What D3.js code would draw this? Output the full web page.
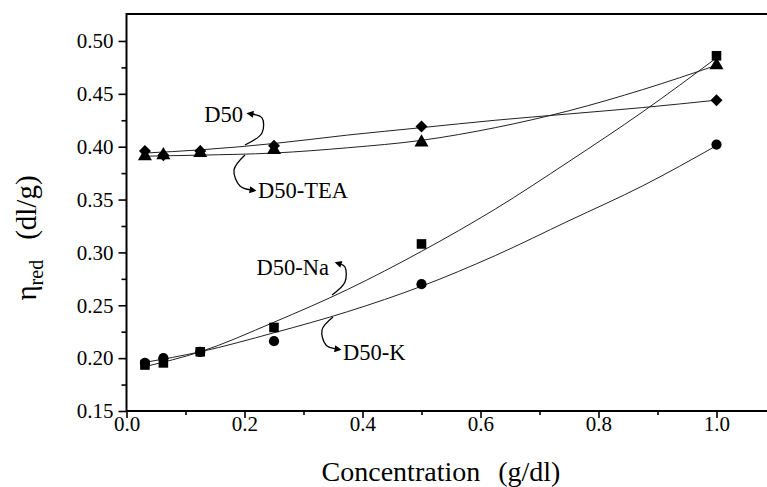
<!DOCTYPE html>
<html>
<head>
<meta charset="utf-8">
<script src="https://cdn.jsdelivr.net/npm/d3@7"></script>
<style>
body { margin: 0; background: #fff; }
svg { display: block; }
text { font-family: "Liberation Serif", "Times New Roman", serif; fill: #000; }
</style>
</head>
<body>
<svg width="767" height="487"></svg>
<script>
// concentrations of the measured solutions (g/dl)
var conc = [0.03125, 0.0625, 0.125, 0.25, 0.5, 1.0];

// reduced viscosity (dl/g)
var d50    = [0.396, 0.392, 0.396, 0.401, 0.419, 0.444];
var d50Tea = [0.391, 0.392, 0.394, 0.397, 0.404, 0.477];
var d50Na  = [0.1935, 0.1955, 0.206, 0.229, 0.308, 0.486];
var d50K   = [0.1955, 0.200, 0.206, 0.216, 0.270, 0.402];

// the fitted curves as drawn, read at these concentrations
var fitConc   = [0.03125, 0.125, 0.25, 0.375, 0.5, 0.625, 0.75, 0.875, 1.0];
var fitD50    = [0.394, 0.397, 0.403, 0.411, 0.418, 0.425, 0.431, 0.437, 0.444];
var fitD50Tea = [0.391, 0.392, 0.394, 0.399, 0.406, 0.418, 0.434, 0.454, 0.477];
var fitD50Na  = [0.192, 0.206, 0.234, 0.265, 0.301, 0.341, 0.386, 0.433, 0.484];
var fitD50K   = [0.196, 0.206, 0.224, 0.244, 0.268, 0.297, 0.330, 0.363, 0.401];

// tick labels
var yTicks = [0.15, 0.20, 0.25, 0.30, 0.35, 0.40, 0.45, 0.50];
var yMinor = [0.175, 0.225, 0.275, 0.325, 0.375, 0.425, 0.475];
var xTicks = [0.0, 0.2, 0.4, 0.6, 0.8, 1.0];
var xMinor = [0.1, 0.3, 0.5, 0.7, 0.9];

// curved arrow labels, in data units
var labelNames = ['D50', 'D50-TEA', 'D50-Na', 'D50-K'];
var labelAt = [[0.1975, 0.4234], [0.2229, 0.3515], [0.3432, 0.2787], [0.3669, 0.1983]];
var labelAnchor = ['end', 'start', 'end', 'start'];
var arrowPts = [
    [[0.2008, 0.4016], [0.2297, 0.4130], [0.2297, 0.4272], [0.2127, 0.4309]],
    [[0.2008, 0.3922], [0.1822, 0.3780], [0.1924, 0.3628], [0.2110, 0.3591]],
    [[0.3483, 0.2597], [0.3703, 0.2720], [0.3703, 0.2862], [0.3619, 0.2891]],
    [[0.3500, 0.2389], [0.3314, 0.2267], [0.3381, 0.2124], [0.3551, 0.2087]]
];

var svg = d3.select('svg');
var svgWidth = +svg.attr('width');

var plot = {l: 126.5, t: 14, b: 411};

var xScale = d3.scaleLinear().domain([0, 1.0856]).range([plot.l, svgWidth]);
var yScale = d3.scaleLinear().domain([0.15, 0.5255]).range([plot.b, plot.t]);

var series = [
    {name: 'D50',     values: d50,    fit: fitD50,    symbol: 'diamond'},
    {name: 'D50-TEA', values: d50Tea, fit: fitD50Tea, symbol: 'triangle'},
    {name: 'D50-Na',  values: d50Na,  fit: fitD50Na,  symbol: 'square'},
    {name: 'D50-K',   values: d50K,   fit: fitD50K,   symbol: 'circle'}
];

// arrowhead
svg.append('defs').append('marker')
    .attr('id', 'arrow')
    .attr('viewBox', '0 0 10 10')
    .attr('refX', 2).attr('refY', 5)
    .attr('markerUnits', 'userSpaceOnUse')
    .attr('markerWidth', 9).attr('markerHeight', 7)
    .attr('orient', 'auto')
    .append('path')
    .attr('d', 'M0,0L10,5L0,10z')
    .attr('fill', '#000');

// axes: major and minor ticks
var yAxis = d3.axisLeft(yScale).tickValues(yTicks).tickSize(8).tickPadding(5)
    .tickFormat(d3.format('.2f'));
var yAxisMinor = d3.axisLeft(yScale).tickValues(yMinor).tickSize(5).tickFormat('');
var xAxis = d3.axisBottom(xScale).tickValues(xTicks).tickSize(7).tickPadding(-2)
    .tickFormat(d3.format('.1f'));
var xAxisMinor = d3.axisBottom(xScale).tickValues(xMinor).tickSize(4).tickFormat('');

[yAxis, yAxisMinor].forEach(function(ax) {
    svg.append('g')
        .attr('class', 'axis y-axis')
        .attr('transform', 'translate(' + plot.l + ',0)')
        .call(ax);
});
[xAxis, xAxisMinor].forEach(function(ax) {
    svg.append('g')
        .attr('class', 'axis x-axis')
        .attr('transform', 'translate(0,' + plot.b + ')')
        .call(ax);
});

svg.selectAll('.axis .domain').remove();
svg.selectAll('.axis line').attr('stroke', '#000').attr('stroke-width', 1.6);
svg.selectAll('.axis text')
    .attr('font-family', '"Liberation Serif", serif')
    .attr('font-size', 21)
    .attr('fill', '#000');

// frame: left, bottom and top lines
svg.append('path')
    .attr('d', 'M' + svgWidth + ',' + plot.t + 'H' + plot.l + 'V' + plot.b + 'H' + svgWidth)
    .attr('fill', 'none')
    .attr('stroke', '#000')
    .attr('stroke-width', 2);

// fitted curves
var fitLine = d3.line()
    .x(function(d) { return xScale(d[0]); })
    .y(function(d) { return yScale(d[1]); })
    .curve(d3.curveMonotoneX);

svg.selectAll('.fit')
    .data(series)
    .enter().append('path')
    .attr('class', 'fit')
    .attr('d', function(s) { return fitLine(d3.zip(fitConc, s.fit)); })
    .attr('fill', 'none')
    .attr('stroke', '#222')
    .attr('stroke-width', 1);

// markers
var symbols = {
    diamond:  d3.symbol().type(d3.symbolSquare).size(72),
    triangle: d3.symbol().type(d3.symbolTriangle).size(85),
    square:   d3.symbol().type(d3.symbolSquare).size(92),
    circle:   d3.symbol().type(d3.symbolCircle).size(82)
};

series.forEach(function(s) {
    svg.append('g')
        .attr('class', 'points')
        .selectAll('path')
        .data(d3.zip(conc, s.values))
        .enter().append('path')
        .attr('d', symbols[s.symbol])
        .attr('transform', function(d) {
            var t = 'translate(' + xScale(d[0]) + ',' + yScale(d[1]) + ')';
            return s.symbol === 'diamond' ? t + ' rotate(45)' : t;
        })
        .attr('fill', '#000');
});

// curved arrow labels
var arrowLine = d3.line()
    .x(function(d) { return xScale(d[0]); })
    .y(function(d) { return yScale(d[1]); })
    .curve(d3.curveCatmullRom);

svg.selectAll('.arrow')
    .data(arrowPts)
    .enter().append('path')
    .attr('class', 'arrow')
    .attr('d', arrowLine)
    .attr('fill', 'none')
    .attr('stroke', '#000')
    .attr('stroke-width', 1.3)
    .attr('marker-end', 'url(#arrow)');

svg.selectAll('.series-label')
    .data(labelNames)
    .enter().append('text')
    .attr('class', 'series-label')
    .attr('x', function(d, i) { return xScale(labelAt[i][0]); })
    .attr('y', function(d, i) { return yScale(labelAt[i][1]); })
    .attr('text-anchor', function(d, i) { return labelAnchor[i]; })
    .attr('font-size', 22.5)
    .text(function(d) { return d; });

// axis titles
var xTitle = svg.append('text')
    .attr('x', 441)
    .attr('y', 481)
    .attr('text-anchor', 'middle')
    .attr('font-size', 28);
xTitle.append('tspan').text('Concentration');
xTitle.append('tspan').attr('dx', 18).text('(g/dl)');

var yTitle = svg.append('text')
    .attr('transform', 'translate(36,238) rotate(-90)')
    .attr('text-anchor', 'middle')
    .attr('font-size', 29);
yTitle.append('tspan').text('η');
yTitle.append('tspan').attr('font-size', 20).attr('dy', 7).text('red');
yTitle.append('tspan').attr('dy', -7).attr('dx', 20).text('(dl/g)');
</script>
</body>
</html>
